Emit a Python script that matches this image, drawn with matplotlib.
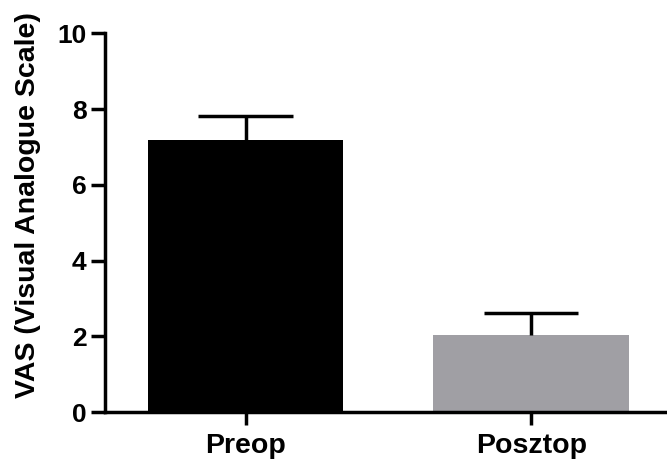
import matplotlib.pyplot as plt
import numpy as np

groups = ['Preop', 'Posztop']
means = [7.17, 2.05]
errors = [0.65, 0.57]
colors = ['#000000', '#a09fa4']

plt.rcParams['font.family'] = ['Liberation Sans', 'DejaVu Sans']
plt.rcParams['font.weight'] = 'bold'

fig = plt.figure(figsize=(6.67, 4.59), dpi=100)
ax = fig.add_axes([0.157, 0.1017, 0.843, 0.826])

x = np.arange(len(groups))
tops = np.array(means) + np.array(errors)
ax.bar(x, means, width=0.685, color=colors, zorder=2)

# upper error bars only: stem from bar top plus a cap
cap = 0.165
ax.vlines(x, means, tops, color='black', linewidth=2.5, zorder=3)
ax.hlines(tops, x - cap, x + cap, color='black', linewidth=2.5, zorder=3)

ax.set_xlim(-0.493, 1.475)
ax.set_ylim(0, 10)
ax.set_yticks([0, 2, 4, 6, 8, 10])
ax.set_xticks(x)
ax.set_xticklabels(groups)
ax.set_ylabel('VAS (Visual Analogue Scale)', fontsize=20.5, fontweight='bold')
ax.yaxis.set_label_coords(-0.113, 0.547)

for side in ['top', 'right']:
    ax.spines[side].set_visible(False)
for side in ['left', 'bottom']:
    ax.spines[side].set_linewidth(2.5)

ax.tick_params(axis='y', length=10, width=2.5, labelsize=19, pad=3)
ax.tick_params(axis='x', length=9, width=2.5, labelsize=20.5, pad=6)
for lbl in ax.get_xticklabels() + ax.get_yticklabels():
    lbl.set_fontweight('bold')

fig.savefig('out.png', dpi=100)
